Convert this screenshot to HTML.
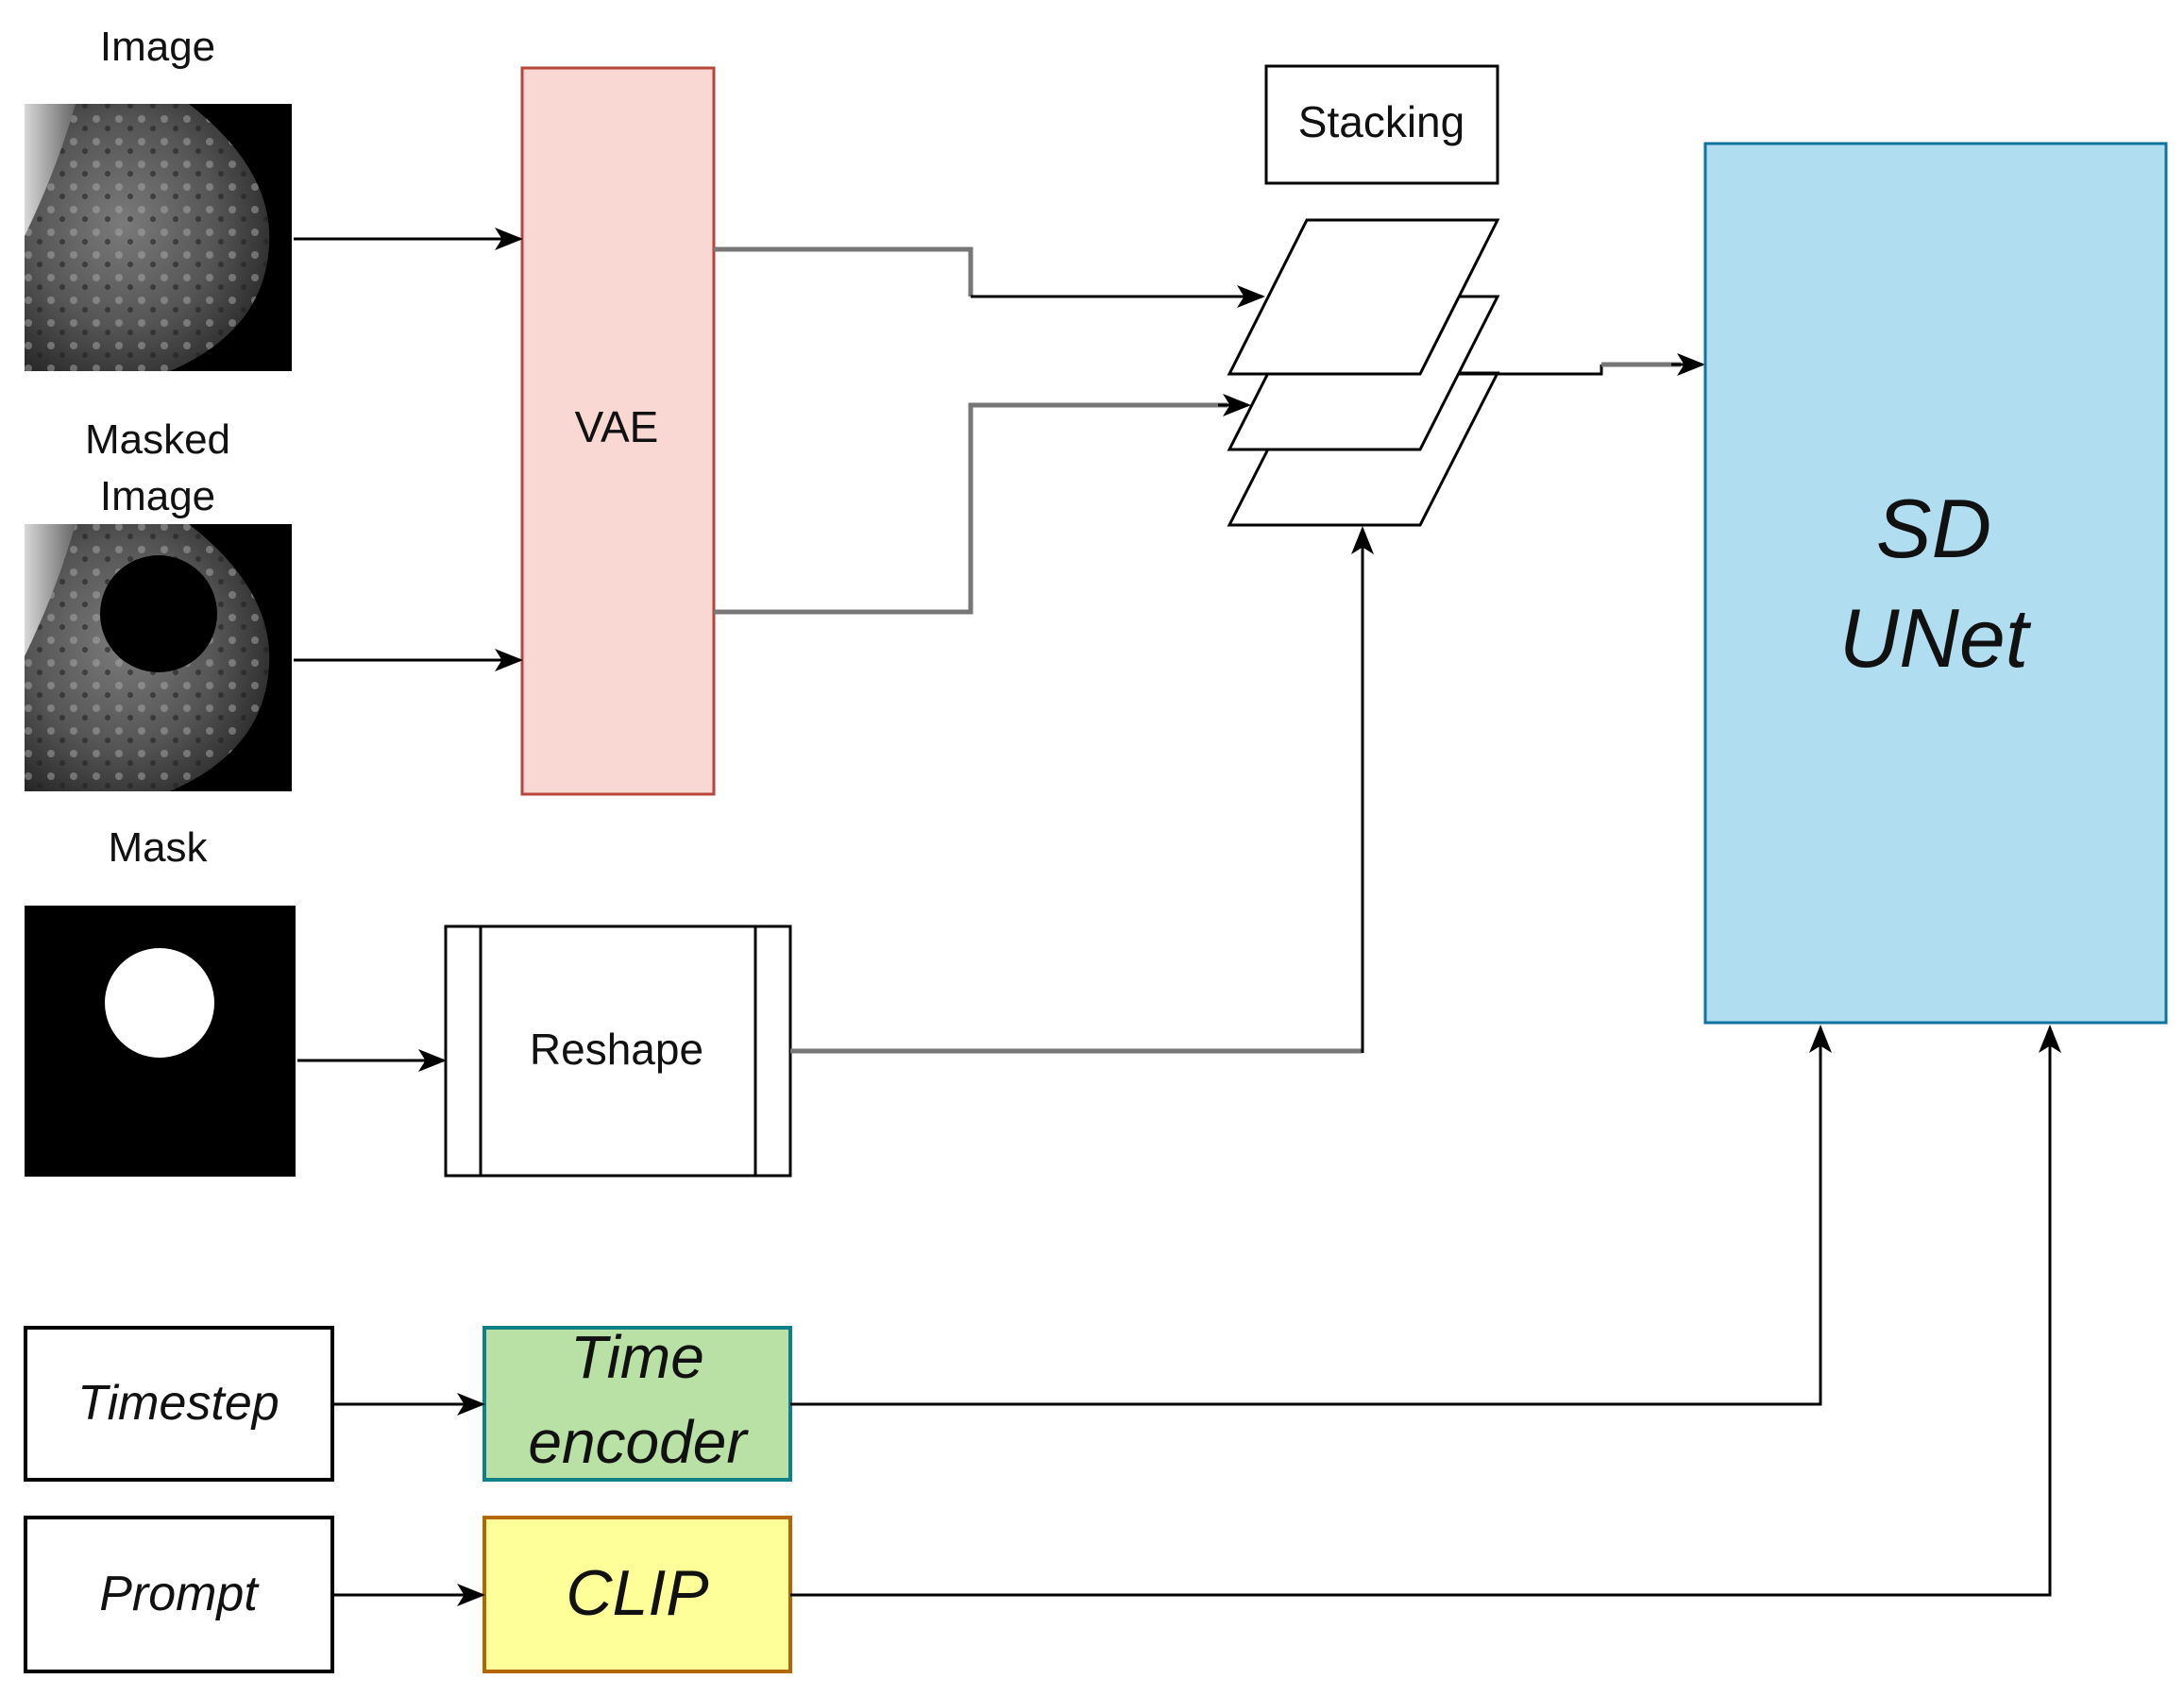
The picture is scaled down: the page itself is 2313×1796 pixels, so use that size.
<!DOCTYPE html>
<html><head><meta charset="utf-8"><style>
html,body{margin:0;padding:0;background:#fff}
svg{display:block}
text{font-family:"Liberation Sans",sans-serif;fill:#111}
</style></head><body>
<svg width="2313" height="1796" viewBox="0 0 2313 1796" xmlns="http://www.w3.org/2000/svg">
<defs>
<marker id="ah" viewBox="0 0 20 20" refX="18" refY="10" markerWidth="30" markerHeight="30" markerUnits="userSpaceOnUse" orient="auto">
<path d="M0,2 L20,10 L0,18 L5,10 Z" fill="#000"/></marker>
<radialGradient id="br" cx="0.4" cy="0.45" r="0.7">
<stop offset="0" stop-color="#7a7a7a"/><stop offset="0.55" stop-color="#555"/><stop offset="1" stop-color="#222"/></radialGradient>
<linearGradient id="sk" x1="0" y1="0" x2="1" y2="0"><stop offset="0" stop-color="#d8d8d8"/><stop offset="1" stop-color="#666"/></linearGradient>
<pattern id="tx" width="24" height="24" patternUnits="userSpaceOnUse">
<circle cx="6" cy="6" r="4" fill="#aaa" opacity="0.5"/><circle cx="18" cy="16" r="3" fill="#222" opacity="0.6"/></pattern>
</defs>

<text x="167" y="64" font-size="44" text-anchor="middle">Image</text>
<text x="167" y="480" font-size="44" text-anchor="middle">Masked</text>
<text x="167" y="540" font-size="44" text-anchor="middle">Image</text>
<text x="167" y="912" font-size="44" text-anchor="middle">Mask</text>

<rect x="26" y="110" width="283" height="283" fill="#000"/>
<path d="M26,110 L200,110 Q290,180 285,260 Q280,350 180,393 L26,393 Z" fill="url(#br)"/>
<path d="M26,110 L200,110 Q290,180 285,260 Q280,350 180,393 L26,393 Z" fill="url(#tx)"/>
<path d="M26,110 L80,110 Q60,180 26,250 Z" fill="url(#sk)"/>

<rect x="26" y="555" width="283" height="283" fill="#000"/>
<path d="M26,555 L200,555 Q290,625 285,705 Q280,795 180,838 L26,838 Z" fill="url(#br)"/>
<path d="M26,555 L200,555 Q290,625 285,705 Q280,795 180,838 L26,838 Z" fill="url(#tx)"/>
<path d="M26,555 L80,555 Q60,625 26,695 Z" fill="url(#sk)"/>
<ellipse cx="168" cy="650" rx="62" ry="62" fill="#000"/>

<rect x="26" y="959" width="287" height="287" fill="#000"/>
<circle cx="169" cy="1062" r="58" fill="#fff"/>

<rect x="553" y="72" width="203" height="769" fill="#f9d7d3" stroke="#b8453a" stroke-width="3"/>
<text x="653" y="468" font-size="46" text-anchor="middle">VAE</text>

<line x1="311" y1="253" x2="551" y2="253" stroke="#000" stroke-width="3" marker-end="url(#ah)"/>
<line x1="311" y1="699" x2="551" y2="699" stroke="#000" stroke-width="3" marker-end="url(#ah)"/>

<rect x="472" y="981" width="365" height="264" fill="#fff" stroke="#000" stroke-width="3"/>
<line x1="509" y1="981" x2="509" y2="1245" stroke="#000" stroke-width="3"/>
<line x1="800" y1="981" x2="800" y2="1245" stroke="#000" stroke-width="3"/>
<text x="653" y="1127" font-size="46" text-anchor="middle">Reshape</text>
<line x1="315" y1="1123" x2="470" y2="1123" stroke="#000" stroke-width="3" marker-end="url(#ah)"/>

<rect x="1341" y="70" width="245" height="124" fill="#fff" stroke="#000" stroke-width="3"/>
<text x="1463" y="145" font-size="46" text-anchor="middle">Stacking</text>
<polygon points="1384,395 1586,395 1504,556 1302,556" fill="#fff" stroke="#000" stroke-width="3"/>
<polygon points="1384,314 1586,314 1504,476 1302,476" fill="#fff" stroke="#000" stroke-width="3"/>
<polygon points="1384,233 1586,233 1504,396 1302,396" fill="#fff" stroke="#000" stroke-width="3"/>

<polyline points="756,264 1028,264 1028,314" fill="none" stroke="#777" stroke-width="5"/>
<line x1="1028" y1="314" x2="1337" y2="314" stroke="#000" stroke-width="3" marker-end="url(#ah)"/>
<polyline points="756,648 1028,648 1028,429 1300,429" fill="none" stroke="#777" stroke-width="5"/>
<line x1="1290" y1="429" x2="1322" y2="429" stroke="#000" stroke-width="3" marker-end="url(#ah)"/>

<polyline points="837,1113 1443,1113" fill="none" stroke="#777" stroke-width="5"/>
<line x1="1443" y1="1115" x2="1443" y2="560" stroke="#000" stroke-width="3" marker-end="url(#ah)"/>

<polyline points="1545,396 1696,396 1696,386" fill="none" stroke="#000" stroke-width="3"/>
<line x1="1696" y1="386" x2="1780" y2="386" stroke="#777" stroke-width="5"/>
<line x1="1770" y1="386" x2="1803" y2="386" stroke="#000" stroke-width="3" marker-end="url(#ah)"/>

<rect x="1806" y="152" width="488" height="931" fill="#b1ddf0" stroke="#10739e" stroke-width="3"/>
<text x="2048" y="590" font-size="88" font-style="italic" text-anchor="middle">SD</text>
<text x="2048" y="706" font-size="88" font-style="italic" text-anchor="middle">UNet</text>

<rect x="27" y="1406" width="325" height="161" fill="#fff" stroke="#000" stroke-width="4"/>
<text x="189" y="1503" font-size="52" font-style="italic" text-anchor="middle">Timestep</text>
<rect x="513" y="1406" width="324" height="161" fill="#b9e0a5" stroke="#0e8088" stroke-width="4"/>
<text x="675" y="1459" font-size="64" font-style="italic" text-anchor="middle">Time</text>
<text x="675" y="1549" font-size="64" font-style="italic" text-anchor="middle">encoder</text>
<line x1="352" y1="1487" x2="511" y2="1487" stroke="#000" stroke-width="3" marker-end="url(#ah)"/>
<polyline points="837,1487 1928,1487 1928,1088" fill="none" stroke="#000" stroke-width="3" marker-end="url(#ah)"/>

<rect x="27" y="1607" width="325" height="163" fill="#fff" stroke="#000" stroke-width="4"/>
<text x="189" y="1705" font-size="52" font-style="italic" text-anchor="middle">Prompt</text>
<rect x="513" y="1607" width="324" height="163" fill="#ffff99" stroke="#b46504" stroke-width="4"/>
<text x="675" y="1710" font-size="68" font-style="italic" text-anchor="middle">CLIP</text>
<line x1="352" y1="1689" x2="511" y2="1689" stroke="#000" stroke-width="3" marker-end="url(#ah)"/>
<polyline points="837,1689 2171,1689 2171,1088" fill="none" stroke="#000" stroke-width="3" marker-end="url(#ah)"/>
</svg>
</body></html>
